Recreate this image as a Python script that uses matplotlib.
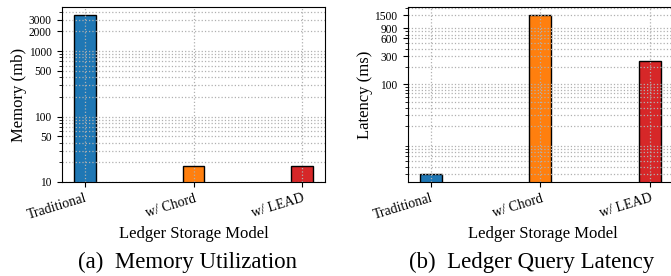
import matplotlib
matplotlib.use("Agg")
import matplotlib.pyplot as plt
from matplotlib.ticker import FixedLocator, FixedFormatter, LogLocator, NullFormatter

plt.rcParams['font.family'] = ['Liberation Serif', 'DejaVu Serif']

models = ["Traditional", "w/ Chord", "w/ LEAD"]
colors = ["tab:blue", "tab:orange", "tab:red"]

memory_mb = [3530, 17.4, 17.6]
latency_ms = [3.0, 1500, 250]

mem_ticks = [10, 50, 100, 500, 1000, 2000, 3000]
lat_ticks = [100, 300, 600, 900, 1500]

fig = plt.figure(figsize=(6.71, 2.76), dpi=100)
ax1 = fig.add_axes([0.0924, 0.3406, 0.392, 0.634])
# right panel runs past the figure edge (cropped in the original)
ax2 = fig.add_axes([0.608, 0.3406, 0.403, 0.634])


def draw(ax, vals, ticks, ylabel, ylim, xlim):
    x = range(len(models))
    ax.bar(x, vals, width=0.2, color=colors, edgecolor="black", linewidth=1.0)
    ax.set_yscale("log")
    ax.set_ylim(*ylim)
    ax.set_xlim(*xlim)
    ax.yaxis.set_major_locator(FixedLocator(ticks))
    ax.yaxis.set_major_formatter(FixedFormatter([str(t) for t in ticks]))
    ax.yaxis.set_minor_locator(LogLocator(base=10, subs=range(2, 10)))
    ax.yaxis.set_minor_formatter(NullFormatter())
    ax.set_xticks(list(x))
    ax.set_xticklabels(models, rotation=17, ha="right", rotation_mode="anchor", fontsize=10)
    ax.tick_params(axis="y", labelsize=8.3, pad=4)
    ax.grid(True, which="both", linestyle=":", color="#b0b0b0", linewidth=0.9)
    ax.set_ylabel(ylabel, fontsize=12, labelpad=1)
    ax.set_xlabel("Ledger Storage Model", fontsize=12, labelpad=3)


draw(ax1, memory_mb, mem_ticks, "Memory (mb)", (10, 4730), (-0.21, 2.21))
draw(ax2, latency_ms, lat_ticks, "Latency (ms)", (2.2, 2050), (-0.21, 2.26))

fig.text(0.279, 0.05, "(a)  Memory Utilization", ha="center", va="center", fontsize=16.5)
fig.text(0.793, 0.05, "(b)  Ledger Query Latency", ha="center", va="center", fontsize=16.5)

fig.savefig("out.png", dpi=100)
